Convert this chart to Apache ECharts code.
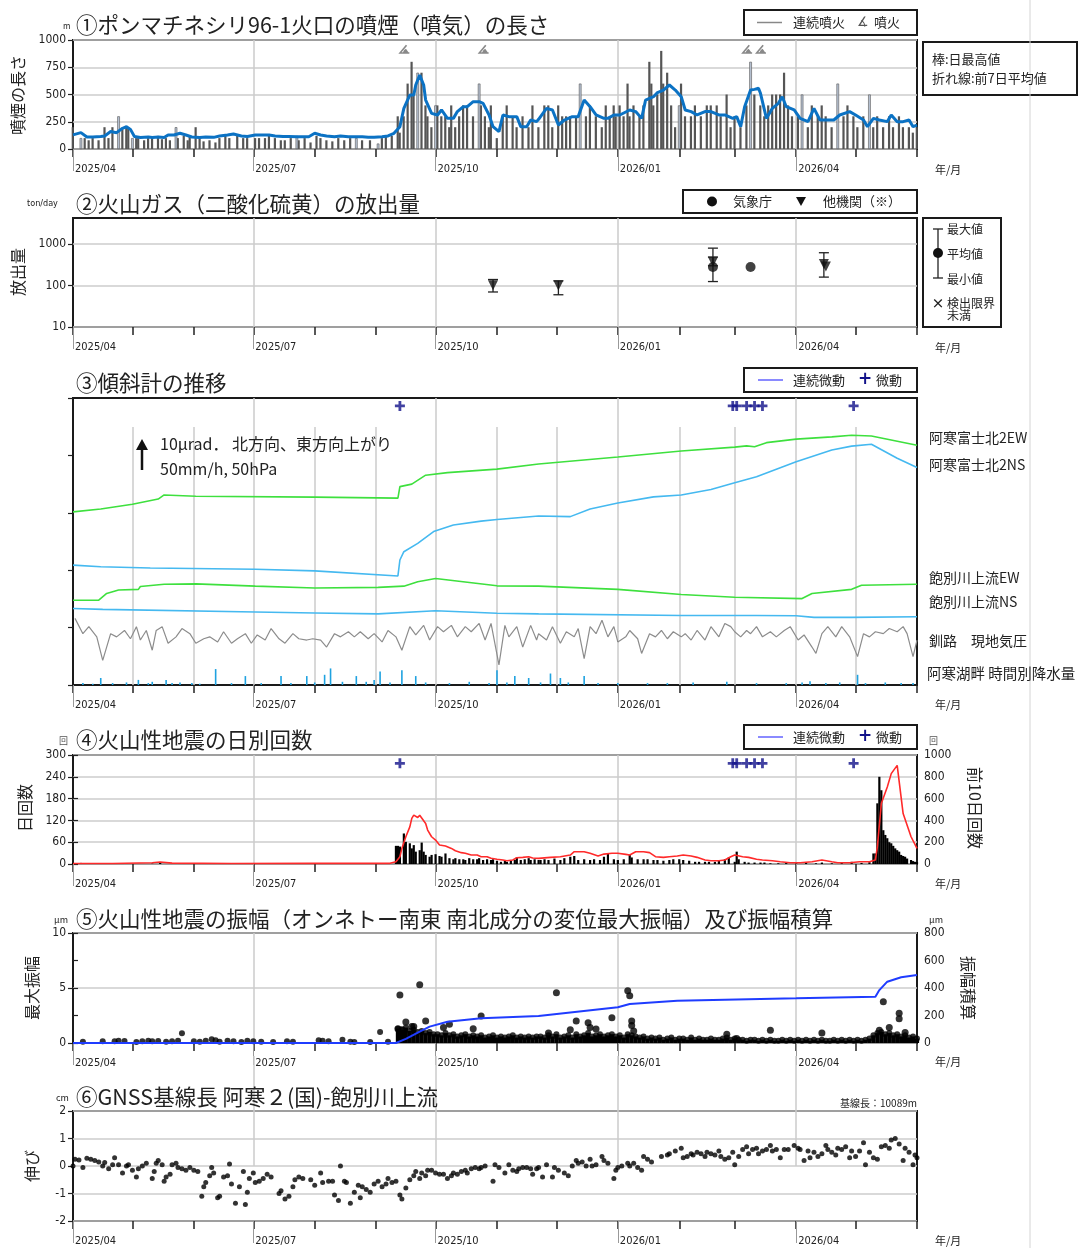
<!DOCTYPE html>
<html lang="ja">
<head>
<meta charset="UTF-8">
<title>阿寒岳 火山活動経過図</title>
<script src="https://cdn.jsdelivr.net/npm/echarts@6/dist/echarts.min.js"></script>
</head>
<body style="margin:0;background:#fff">
<div id="main" style="width:1078px;height:1248px"></div>
<script>
// x values are days counted from 2025/04/01
var monthDays = [0, 30, 61, 91, 122, 153, 183, 214, 244, 275, 306, 334, 365, 395, 426];
var quarterDays = [0, 91, 183, 275, 365];
var quarterLabels = ['2025/04', '2025/07', '2025/10', '2026/01', '2026/04'];

// ① 噴煙の高さ (日最高値) [day, m]
var plumeMax = [[0,200],[6,100],[8,80],[10,100],[13,80],[16,200],[18,100],[20,200],[25,180],[27,200],[28,200],[32,100],[33,100],[36,80],[38,100],[40,100],[43,120],[45,90],[47,100],[49,80],[53,100],[56,120],[58,80],[59,120],[62,200],[64,100],[66,70],[69,80],[72,60],[74,100],[77,120],[79,100],[83,120],[86,100],[88,100],[92,100],[94,100],[97,100],[99,120],[102,100],[105,80],[107,80],[110,100],[114,80],[117,100],[120,60],[123,120],[125,100],[128,80],[131,70],[134,100],[137,80],[140,100],[146,80],[150,80],[156,100],[158,120],[161,120],[164,300],[165,150],[167,300],[169,600],[171,800],[172,500],[176,700],[178,400],[179,300],[181,200],[184,400],[186,300],[188,300],[190,200],[191,400],[193,200],[195,300],[197,400],[199,400],[202,300],[206,400],[208,300],[210,200],[211,400],[214,100],[217,300],[219,400],[222,300],[224,200],[227,300],[230,200],[232,400],[235,200],[238,400],[240,400],[242,200],[245,400],[247,300],[249,300],[251,300],[254,300],[259,300],[261,400],[264,300],[267,200],[269,400],[271,300],[273,400],[274,300],[276,400],[278,300],[280,600],[281,300],[283,400],[286,300],[288,400],[291,800],[292,600],[293,400],[295,500],[297,900],[298,600],[300,700],[302,400],[304,200],[307,600],[309,300],[312,300],[314,400],[317,300],[320,400],[322,400],[325,400],[327,300],[330,500],[332,200],[334,300],[337,200],[340,400],[344,500],[347,400],[349,300],[351,400],[353,500],[355,500],[357,500],[359,700],[361,400],[363,300],[366,300],[371,200],[373,400],[376,300],[378,400],[380,300],[383,200],[389,300],[391,400],[394,300],[396,200],[399,300],[404,200],[406,300],[409,200],[412,300],[414,200],[417,300],[419,200],[422,200],[424,150],[426,200]];
var plumeMaxLight = [[4,100],[23,300],[30,100],[52,200],[113,120],[143,100],[154,50],[174,700],[183,400],[205,600],[256,600],[306,400],[342,800],[368,500],[386,600],[402,500]];
// 前7日平均値 [day, m]
var plumeAvg = [[0,130],[4,150],[7,110],[10,110],[14,115],[16,120],[19,160],[22,150],[25,190],[27,205],[29,180],[31,115],[34,105],[38,110],[40,105],[43,110],[46,105],[48,128],[51,128],[54,144],[57,128],[60,110],[64,105],[67,110],[71,107],[74,120],[78,128],[81,138],[85,120],[88,115],[92,128],[95,128],[99,128],[102,120],[106,115],[109,115],[113,113],[116,113],[119,113],[122,144],[125,128],[128,120],[132,113],[135,120],[139,113],[142,113],[146,113],[149,107],[152,107],[156,113],[159,120],[162,144],[165,205],[167,373],[170,495],[172,495],[173,587],[175,679],[177,587],[178,449],[181,327],[184,312],[186,358],[189,281],[192,281],[194,343],[197,388],[199,388],[202,434],[205,434],[207,419],[210,312],[212,205],[215,159],[217,312],[220,297],[224,297],[226,205],[229,205],[231,266],[234,251],[235,272],[239,373],[242,358],[245,220],[248,266],[252,297],[255,297],[258,449],[261,388],[264,312],[268,281],[270,281],[273,312],[276,312],[281,358],[284,343],[287,281],[289,449],[293,480],[295,517],[298,541],[301,587],[302,602],[304,541],[307,480],[309,358],[312,343],[315,312],[319,343],[322,343],[326,312],[329,312],[333,281],[335,297],[337,205],[339,388],[340,404],[342,541],[344,547],[346,557],[347,511],[350,281],[353,373],[356,419],[358,480],[360,388],[364,358],[367,281],[371,251],[374,373],[377,266],[380,266],[384,266],[387,312],[392,343],[395,312],[399,266],[401,205],[404,281],[407,266],[411,251],[413,312],[416,251],[419,251],[422,266],[424,205],[426,220]];
var eruptionDays = [167, 207, 340, 347];

// ② 二酸化硫黄放出量 [day, mean, min, max] (t/day)
var so2Jma = [[323,280,125,800],[342,280,260,300]];
var so2Other = [[212,102,70,140],[245,100,60,130],[323,370,300,490],[379,330,160,620],[380,290,290,290]];

// ③ 傾斜計 [day, μrad]
var tiltAkanEW = [[0,54.3],[14,55.2],[30,56.7],[43,58.3],[46,59.6],[62,59.2],[122,58.9],[164,58.6],[165,62.2],[171,63.0],[178,65.8],[189,66.6],[214,67.7],[235,69.3],[275,71.5],[307,73.4],[334,74.6],[340,75.0],[344,74.7],[350,76.0],[365,77.1],[383,77.8],[393,78.3],[403,78.1],[426,75.2]];
var tiltAkanNS = [[0,37.6],[14,37.1],[39,36.7],[92,36.3],[122,35.8],[164,34.2],[165,39.2],[167,41.8],[174,44.4],[182,48.1],[192,50.2],[206,51.4],[214,51.9],[235,53.0],[251,52.8],[261,55.2],[275,57.1],[293,59.0],[307,59.6],[322,61.3],[334,63.4],[345,65.3],[365,70.0],[383,73.7],[393,74.9],[403,75.5],[416,71.1],[426,68.2]];
var tiltAkuEW = [[0,26.6],[13,26.6],[17,28.7],[23,29.8],[33,30.0],[34,30.9],[46,31.6],[62,31.7],[92,31.0],[122,30.4],[154,30.6],[167,31.0],[174,32.4],[183,33.4],[214,31.1],[235,31.0],[275,30.0],[307,28.4],[334,27.5],[368,27.1],[373,28.7],[393,30.0],[398,31.3],[426,31.6]];
var tiltAkuNS = [[0,24.0],[15,23.7],[92,22.9],[122,22.6],[154,22.3],[183,23.3],[214,22.5],[235,22.3],[307,21.8],[345,21.8],[365,21.7],[374,21.2],[393,21.2],[426,21.4]];
// 釧路 現地気圧 [day, hPa]
var pressure = [[1,1041],[5,1017],[8,1028],[12,1012],[15,975],[19,1017],[22,1012],[26,1022],[29,1009],[32,1028],[34,1007],[37,1022],[40,991],[42,1022],[45,1028],[48,1002],[52,1012],[55,1025],[59,1017],[62,1002],[66,1009],[69,1012],[73,1004],[76,1020],[80,1002],[83,1009],[87,1017],[90,1002],[93,1015],[97,1007],[100,1025],[104,1009],[107,1002],[111,1017],[114,1009],[118,1007],[121,1009],[125,1007],[128,996],[132,1017],[135,1012],[139,1020],[142,1012],[145,1020],[149,1009],[152,1017],[156,1004],[159,1022],[163,1012],[166,991],[170,1028],[173,1015],[177,1030],[180,1007],[184,1028],[187,1020],[191,1030],[194,1012],[198,1028],[201,1020],[205,1033],[208,1007],[211,1033],[215,968],[218,1030],[220,1012],[224,1028],[227,996],[231,1030],[234,1007],[235,1017],[239,1007],[242,1028],[246,1002],[249,1020],[253,1012],[255,1025],[258,978],[261,1028],[264,1017],[267,1038],[270,1012],[273,1028],[275,1004],[279,1012],[281,1022],[285,1009],[287,986],[291,1017],[294,1012],[297,1022],[300,1009],[303,1020],[307,1012],[309,1017],[312,1007],[315,1022],[319,1007],[322,1028],[326,1012],[329,1033],[332,1028],[334,1020],[337,1012],[340,1022],[342,1017],[345,1028],[348,1012],[352,1020],[355,1012],[359,1022],[362,1028],[366,1007],[369,1015],[373,996],[375,986],[378,1017],[381,1028],[385,1012],[388,1028],[392,1012],[396,981],[399,1017],[402,1012],[405,1020],[409,1017],[412,1025],[416,1020],[419,1028],[421,1017],[424,981],[426,1007]];
// 阿寒湖畔 時間別降水量 [day, mm/h]
var rain = [[5,3],[10,2],[14,11],[20,3],[27,4],[33,8],[38,3],[40,5],[47,8],[50,3],[54,4],[60,3],[64,2],[72,25],[80,3],[87,14],[95,3],[105,14],[110,3],[118,14],[122,4],[127,16],[130,26],[136,5],[143,14],[148,5],[152,8],[155,21],[160,4],[166,23],[173,14],[178,4],[190,3],[200,5],[210,3],[214,23],[219,4],[223,14],[230,11],[236,4],[241,18],[246,11],[250,4],[258,14],[265,3],[275,3],[290,3],[300,3],[313,4],[330,5],[345,3],[360,3],[368,4],[372,6],[380,3],[387,4],[396,16],[400,3],[410,4],[418,3],[424,3]];
var tremorDays = [165, 333, 335, 340, 344, 348, 394];

// ④ 火山性地震 日別回数 [day, count] / 前10日回数 [day, count]
var eqDaily = [[0,3],[2,2],[4,3],[6,2],[8,2],[40,1],[44,3],[60,1],[90,1],[120,1],[150,1],[163,50],[164,50],[165,48],[167,84],[168,61],[170,57],[171,43],[172,52],[173,34],[175,38],[176,59],[177,34],[178,25],[180,20],[181,25],[183,27],[185,22],[186,20],[188,29],[190,16],[192,13],[193,16],[195,13],[197,13],[198,11],[200,16],[202,13],[204,13],[205,16],[207,11],[209,13],[211,11],[212,13],[214,9],[216,6],[218,9],[219,6],[221,9],[223,11],[224,18],[226,11],[228,13],[230,16],[231,11],[233,13],[235,11],[236,11],[238,13],[240,11],[243,15],[246,11],[248,16],[251,20],[253,22],[255,11],[258,13],[261,11],[263,13],[266,11],[268,20],[270,29],[273,13],[275,11],[278,13],[281,25],[282,18],[285,13],[288,13],[290,13],[293,11],[295,11],[298,9],[301,11],[303,13],[306,13],[308,11],[311,9],[314,6],[316,6],[319,6],[321,6],[324,6],[326,9],[329,13],[331,18],[334,6],[335,34],[336,13],[339,6],[341,4],[344,4],[347,4],[349,4],[352,2],[356,2],[360,3],[365,2],[370,3],[375,2],[378,4],[383,2],[388,3],[393,6],[398,3],[402,5],[404,29],[405,29],[406,167],[407,240],[408,203],[409,93],[410,80],[411,71],[412,60],[413,57],[414,50],[415,43],[416,38],[417,34],[418,25],[419,22],[420,20],[421,15],[423,11],[424,8],[425,6],[426,5]];
var eq10Day = [[0,5],[20,5],[40,12],[44,18],[50,8],[80,5],[120,6],[160,6],[163,21],[165,67],[166,143],[168,250],[170,341],[171,418],[172,448],[174,427],[175,448],[176,448],[178,372],[179,311],[181,250],[183,220],[185,174],[188,165],[191,143],[193,122],[196,104],[198,98],[201,82],[204,82],[206,67],[209,67],[211,52],[214,43],[217,37],[219,30],[222,37],[224,58],[227,61],[230,67],[232,55],[235,52],[241,61],[246,67],[251,82],[253,113],[258,113],[261,98],[265,73],[268,91],[272,98],[275,98],[279,88],[281,82],[284,113],[288,113],[291,104],[294,67],[298,61],[301,67],[305,73],[308,82],[312,73],[315,61],[319,37],[322,30],[326,30],[329,37],[332,67],[334,82],[338,67],[341,61],[345,43],[348,37],[353,30],[357,21],[362,12],[367,12],[373,21],[378,37],[383,21],[386,12],[392,12],[397,21],[402,21],[405,37],[406,159],[408,555],[411,707],[413,829],[416,905],[417,890],[419,463],[423,250],[426,143]];

// ⑤ 振幅 [day, μm]、振幅積算 [day, μm]
var ampEarly = [[5,0.12],[15,0.15],[21,0.15],[23,0.2],[26,0.18],[32,0.1],[35,0.15],[38,0.2],[40,0.15],[43,0.18],[47,0.12],[50,0.15],[53,0.2],[55,0.88],[61,0.15],[64,0.12],[67,0.2],[70,0.35],[72,0.25],[74,0.12],[78,0.2],[81,0.15],[85,0.1],[88,0.2],[91,0.15],[95,0.12],[101,0.1],[108,0.15],[111,0.12],[124,0.25],[126,0.2],[129,0.15],[136,0.3],[140,0.12],[142,0.1],[150,0.1],[155,1.0],[159,0.12]];
var ampBandStart = 164;
var ampBand = [1.3,1.2,1.4,1.1,1.2,1.0,1.1,0.9,1.0,0.8,0.8,0.7,0.9,0.7,0.8,0.6,0.7,0.8,0.6,0.7,0.6,0.7,0.5,0.6,0.7,0.5,0.6,0.5,0.6,0.7,0.5,0.6,0.5,0.6,0.5,0.6,0.6,0.5,0.7,0.6,0.8,0.5,0.6,0.7,0.5,0.8,0.6,0.7,0.9,0.6,0.7,0.8,0.6,0.7,0.8,0.6,0.7,0.5,0.8,0.7,0.6,0.5,0.6,0.4,0.5,0.4,0.5,0.3,0.4,0.5,0.3,0.4,0.4,0.3,0.5,0.3,0.4,0.3,0.3,0.4,0.3,0.3,0.4,0.5,0.3,0.4,0.3,0.3,0.2,0.3,0.3,0.2,0.3,0.2,0.3,0.2,0.2,0.3,0.2,0.3,0.2,0.3,0.2,0.3,0.2,0.3,0.2,0.3,0.2,0.2,0.3,0.2,0.3,0.2,0.3,0.2,0.3,0.2,0.3,0.4,0.7,0.9,1.0,0.8,0.9,0.7,0.8,0.6,0.7,0.5,0.6,0.4];
var ampLarge = [[164,1.3],[165,4.36],[166,1.2],[168,1.9],[171,1.5],[172,1.5],[175,5.3],[178,2.0],[187,1.4],[190,1.7],[202,1.3],[206,2.45],[240,0.9],[244,4.57],[251,1.2],[254,2.0],[260,1.85],[261,1.4],[264,1.27],[272,2.3],[280,4.76],[281,4.3],[282,2.0],[282,1.6],[283,1.1],[330,0.8],[335,0.4],[352,1.15],[378,0.9],[407,1.15],[409,3.75],[412,1.4],[417,2.7],[417,2.2],[420,0.95]];
var ampCumulative = [[0,0],[163,0],[168,30],[175,82],[180,119],[189,155],[206,180],[235,196],[275,260],[281,284],[305,308],[365,325],[405,337],[407,385],[411,446],[418,478],[426,495]];

// ⑥ GNSS基線長 [day, cm]
var gnss = [[0,0.0],[1,0.25],[3,0.22],[5,-0.05],[7,0.28],[9,0.25],[11,0.2],[13,0.15],[15,0.0],[16,0.13],[18,-0.1],[20,0.05],[21,0.3],[23,0.05],[25,-0.25],[27,0.0],[28,0.05],[30,-0.15],[32,-0.4],[33,-0.1],[35,0.0],[37,0.1],[40,-0.45],[41,-0.2],[42,0.1],[43,0.2],[45,0.05],[46,-0.55],[47,-0.4],[49,-0.3],[50,0.05],[52,0.1],[53,-0.05],[55,-0.1],[57,-0.15],[59,-0.05],[61,-0.15],[63,-0.2],[65,-1.1],[66,-0.75],[67,-0.6],[69,-0.35],[70,-0.05],[71,-0.25],[73,-1.15],[74,-1.1],[76,-0.4],[78,-0.35],[79,0.07],[80,-0.65],[82,-1.35],[84,-0.75],[86,-0.2],[87,-1.4],[88,-0.95],[89,-0.45],[91,-0.25],[92,-0.6],[94,-0.55],[96,-0.45],[98,-0.3],[100,-0.4],[104,-1.0],[105,-0.9],[107,-1.2],[109,-1.1],[111,-0.75],[112,-0.5],[114,-0.4],[116,-0.45],[120,-0.5],[122,-0.7],[125,-0.25],[126,-0.6],[129,-0.55],[131,-0.55],[132,-1.05],[134,-1.25],[135,0.0],[137,-0.55],[138,-0.6],[140,-1.35],[142,-0.95],[144,-0.7],[145,-1.15],[146,-0.75],[148,-0.85],[150,-0.95],[152,-0.65],[154,-0.55],[156,-0.75],[158,-0.65],[159,-0.45],[161,-0.6],[163,-0.55],[165,-1.05],[166,-1.2],[168,-0.8],[170,-0.5],[172,-0.35],[173,-0.2],[175,-0.45],[176,-0.25],[178,-0.35],[179,-0.15],[181,-0.15],[183,-0.25],[185,-0.3],[187,-0.3],[189,-0.45],[191,-0.35],[192,-0.25],[194,-0.3],[196,-0.2],[198,-0.15],[199,-0.25],[201,-0.1],[203,-0.05],[205,-0.1],[206,-0.05],[208,0.0],[212,-0.55],[213,0.05],[215,-0.05],[218,-0.25],[220,0.05],[222,-0.15],[224,-0.2],[225,-0.1],[227,-0.05],[229,-0.05],[231,-0.1],[232,-0.3],[234,-0.1],[235,-0.05],[237,-0.4],[239,0.05],[242,-0.4],[243,-0.05],[245,-0.15],[248,-0.25],[250,-0.35],[252,0.0],[254,0.2],[255,0.1],[257,0.15],[259,0.0],[261,0.25],[262,0.0],[264,0.05],[267,0.35],[268,0.2],[270,0.1],[273,-0.45],[274,-0.15],[275,-0.05],[277,0.0],[280,0.1],[281,0.0],[283,0.1],[285,-0.05],[287,-0.15],[288,0.35],[290,0.25],[292,0.15],[297,0.35],[300,0.4],[301,0.45],[304,0.55],[307,0.65],[308,0.3],[310,0.35],[312,0.45],[313,0.4],[315,0.5],[317,0.45],[319,0.35],[320,0.5],[322,0.45],[324,0.4],[326,0.55],[327,0.35],[329,0.25],[331,0.3],[333,0.5],[334,0.05],[336,0.35],[338,0.6],[340,0.7],[341,0.45],[343,0.6],[345,0.65],[346,0.45],[348,0.55],[350,0.6],[352,0.75],[353,0.55],[355,0.6],[357,0.3],[359,0.6],[361,0.6],[364,0.75],[366,0.65],[367,0.6],[369,0.2],[371,0.55],[372,0.3],[374,0.5],[376,0.35],[378,0.45],[380,0.75],[381,0.6],[383,0.5],[385,0.4],[386,0.65],[388,0.6],[390,0.7],[392,0.3],[393,0.55],[395,0.35],[397,0.55],[399,0.85],[400,0.05],[402,0.5],[404,0.3],[406,0.25],[408,0.7],[410,0.75],[412,0.65],[413,0.95],[415,1.0],[417,0.8],[419,0.2],[420,0.65],[422,0.5],[424,0.05],[425,0.4],[426,0.3]];

var NUM_FONT = "'DejaVu Sans Condensed','Liberation Sans Narrow',Roboto,sans-serif";
var JP_FONT = "'Noto Sans CJK JP','Noto Sans',sans-serif";
var GRID_GRAY = '#cccccc';

// 傾斜図の換算: 50hPa, 50mm/h = 10μrad
var hpaScale = 10 / 50, rainScale = 10 / 50, pressBase = 15.1, pressRef = 1012;

var panels = [
  { top: 40, h: 109, labelY: 170 },
  { top: 218, h: 109, labelY: 348 },
  { top: 398, h: 287, labelY: 705 },
  { top: 755, h: 109, labelY: 884 },
  { top: 933, h: 110, labelY: 1062 },
  { top: 1111, h: 110, labelY: 1241 }
];

var chart = echarts.init(document.getElementById('main'));

var grid = panels.map(function (p) {
  return { left: 73, width: 844, top: p.top, height: p.h, show: true,
    borderColor: '#1a1a1a', borderWidth: 2, backgroundColor: 'rgba(0,0,0,0)' };
});

function baseX(gi, extra) {
  return Object.assign({
    type: 'value', gridIndex: gi, min: 0, max: 426, position: 'bottom',
    axisLine: { show: false }, axisLabel: { show: false },
    splitLine: { show: false }, axisTick: { show: false }
  }, extra);
}

var xAxis = [], xBase = [];
var minorMonths = monthDays.filter(function (d) { return quarterDays.indexOf(d) < 0 && d < 426; });
panels.forEach(function (p, i) {
  xBase.push(xAxis.length);
  // vertical grid lines (drawn as inside ticks)
  xAxis.push(baseX(i, { axisTick: { show: true, inside: true, length: p.h,
    customValues: quarterDays.slice(1), lineStyle: { color: GRID_GRAY, width: 1.5 } } }));
  xAxis.push(baseX(i, { axisTick: { show: true, length: 8, customValues: monthDays,
    lineStyle: { color: '#222', width: 1.5 } } }));
  xAxis.push(baseX(i, {
    axisTick: { show: true, length: 22, customValues: quarterDays, lineStyle: { color: '#999', width: 1 } },
    axisLabel: { show: true, customValues: quarterDays, align: 'left', margin: 15, padding: [0, 0, 0, 2],
      fontSize: 11, color: '#222', fontFamily: NUM_FONT,
      formatter: function (v) { return quarterLabels[quarterDays.indexOf(v)] || ''; } }
  }));
  if (i === 2) {
    xAxis.push(baseX(i, { axisTick: { show: true, inside: true, length: 258,
      customValues: minorMonths, lineStyle: { color: GRID_GRAY, width: 1.5 } } }));
  }
});

function plain(v) { return String(v); }

function yAx(gi, extra) {
  return Object.assign({
    type: 'value', gridIndex: gi, axisLine: { show: false },
    axisTick: { show: true, length: 5, lineStyle: { color: '#222', width: 1.2 } },
    axisLabel: { color: '#222', fontSize: 12, fontFamily: NUM_FONT, margin: 7, formatter: plain },
    splitLine: { show: true, lineStyle: { color: GRID_GRAY, width: 1.5 } }
  }, extra);
}

var yAxis = [
  yAx(0, { min: 0, max: 1000, interval: 250 }),
  yAx(1, { type: 'log', logBase: 10, min: 10, max: 4270,
    axisLabel: { color: '#222', fontSize: 12, fontFamily: NUM_FONT, margin: 7, customValues: [10, 100, 1000], formatter: plain },
    axisTick: { show: true, length: 5, customValues: [10, 100, 1000], lineStyle: { color: '#222', width: 1.2 } } }),
  yAx(2, { min: 0, max: 90, interval: 18, axisLabel: { show: false }, splitLine: { show: false } }),
  yAx(3, { min: 0, max: 300, interval: 60 }),
  yAx(3, { min: 0, max: 1000, interval: 200, position: 'right', splitLine: { show: false } }),
  yAx(4, { min: 0, max: 10, interval: 5 }),
  yAx(4, { min: 0, max: 800, interval: 200, position: 'right', splitLine: { show: false } }),
  yAx(5, { min: -2, max: 2, interval: 1 })
];

var plusPath = 'path://M3.6,0H6.4V3.6H10V6.4H6.4V10H3.6V6.4H0V3.6H3.6Z';
var eruptPath = 'path://M0,10L12,10L12,8.4L3.6,8.4L9.6,1.2L8.2,0Z M5,8.4Q6,5.2 8.3,4.4L11,8.4Z';

function errorBars(data, gi) {
  return {
    type: 'custom', xAxisIndex: xBase[gi], yAxisIndex: 1, z: 4, data: data,
    encode: { x: 0, y: [2, 3] },
    renderItem: function (params, api) {
      var lo = api.coord([api.value(0), api.value(2)]);
      var hi = api.coord([api.value(0), api.value(3)]);
      if (Math.abs(lo[1] - hi[1]) < 3) return null;
      var st = { stroke: '#222', lineWidth: 1.3 };
      return { type: 'group', children: [
        { type: 'line', shape: { x1: lo[0], y1: lo[1], x2: hi[0], y2: hi[1] }, style: st },
        { type: 'line', shape: { x1: lo[0] - 5, y1: lo[1], x2: lo[0] + 5, y2: lo[1] }, style: st },
        { type: 'line', shape: { x1: hi[0] - 5, y1: hi[1], x2: hi[0] + 5, y2: hi[1] }, style: st }
      ] };
    }
  };
}

var series = [
  // ①
  { type: 'bar', xAxisIndex: xBase[0], yAxisIndex: 0, data: plumeMax, barWidth: 2.2, z: 2,
    itemStyle: { color: '#555' } },
  { type: 'bar', xAxisIndex: xBase[0], yAxisIndex: 0, data: plumeMaxLight, barWidth: 2.6, z: 2, barGap: '-100%',
    itemStyle: { color: '#b8c3d4', borderColor: '#555', borderWidth: 0.6 } },
  { type: 'line', xAxisIndex: xBase[0], yAxisIndex: 0, data: plumeAvg, symbol: 'none', z: 5,
    lineStyle: { color: '#0b72c4', width: 3 } },
  { type: 'scatter', xAxisIndex: xBase[0], yAxisIndex: 0, symbol: eruptPath, symbolSize: [11, 9],
    itemStyle: { color: '#6b6b6b' }, z: 6,
    data: eruptionDays.map(function (d) { return [d, 915]; }) },
  // ②
  errorBars(so2Jma, 1),
  errorBars(so2Other, 1),
  { type: 'scatter', xAxisIndex: xBase[1], yAxisIndex: 1, symbol: 'circle', symbolSize: 10, z: 5,
    itemStyle: { color: '#111' }, data: so2Jma.map(function (r) { return [r[0], r[1]]; }) },
  { type: 'scatter', xAxisIndex: xBase[1], yAxisIndex: 1, symbol: 'triangle', symbolRotate: 180, symbolSize: 10, z: 6,
    itemStyle: { color: '#111' }, data: so2Other.map(function (r) { return [r[0], r[1]]; }) },
  // ③
  { type: 'line', xAxisIndex: xBase[2], yAxisIndex: 2, data: tiltAkanEW, symbol: 'none', lineStyle: { color: '#3ee03e', width: 1.6 } },
  { type: 'line', xAxisIndex: xBase[2], yAxisIndex: 2, data: tiltAkanNS, symbol: 'none', lineStyle: { color: '#45b9f0', width: 1.6 } },
  { type: 'line', xAxisIndex: xBase[2], yAxisIndex: 2, data: tiltAkuEW, symbol: 'none', lineStyle: { color: '#3ee03e', width: 1.6 } },
  { type: 'line', xAxisIndex: xBase[2], yAxisIndex: 2, data: tiltAkuNS, symbol: 'none', lineStyle: { color: '#45b9f0', width: 1.6 } },
  { type: 'line', xAxisIndex: xBase[2], yAxisIndex: 2, symbol: 'none', lineStyle: { color: '#8c8c8c', width: 1.2 },
    data: pressure.map(function (r) { return [r[0], pressBase + (r[1] - pressRef) * hpaScale]; }) },
  { type: 'bar', xAxisIndex: xBase[2], yAxisIndex: 2, barWidth: 1.6, itemStyle: { color: '#1fa2e0' },
    data: rain.map(function (r) { return [r[0], r[1] * rainScale]; }) },
  { type: 'scatter', xAxisIndex: xBase[2], yAxisIndex: 2, symbol: plusPath, symbolSize: 10,
    itemStyle: { color: '#12128a' }, data: tremorDays.map(function (d) { return [d, 87.5]; }) },
  // ④
  { type: 'bar', xAxisIndex: xBase[3], yAxisIndex: 3, data: eqDaily, barWidth: 2.2, itemStyle: { color: '#000' } },
  { type: 'line', xAxisIndex: xBase[3], yAxisIndex: 4, data: eq10Day, symbol: 'none', z: 5,
    lineStyle: { color: '#ff2a2a', width: 1.6 } },
  { type: 'scatter', xAxisIndex: xBase[3], yAxisIndex: 3, symbol: plusPath, symbolSize: 10,
    itemStyle: { color: '#12128a' }, data: tremorDays.map(function (d) { return [d, 277]; }) },
  // ⑤
  { type: 'bar', xAxisIndex: xBase[4], yAxisIndex: 5, barWidth: 4.2, itemStyle: { color: '#000' },
    data: ampBand.map(function (v, i) { return [ampBandStart + 2 * i, v]; }) },
  { type: 'scatter', xAxisIndex: xBase[4], yAxisIndex: 5, symbolSize: 6, itemStyle: { color: '#000' },
    data: ampBand.map(function (v, i) { return [ampBandStart + 2 * i, v]; }) },
  { type: 'scatter', xAxisIndex: xBase[4], yAxisIndex: 5, symbolSize: 6, itemStyle: { color: '#000' }, data: ampEarly },
  { type: 'scatter', xAxisIndex: xBase[4], yAxisIndex: 5, symbolSize: 7, itemStyle: { color: '#000' }, data: ampLarge },
  { type: 'line', xAxisIndex: xBase[4], yAxisIndex: 6, data: ampCumulative, symbol: 'none', z: 5,
    lineStyle: { color: '#1f3cff', width: 2 } },
  // ⑥
  { type: 'scatter', xAxisIndex: xBase[5], yAxisIndex: 7, symbolSize: 5, itemStyle: { color: '#000' }, data: gnss }
];

function txt(x, y, s, size, o) {
  o = o || {};
  return { type: 'text', x: x, y: y, rotation: o.rot || 0, z: 20,
    style: { text: s, fontSize: size, fontFamily: o.font || JP_FONT, fill: o.color || '#222',
      fontWeight: o.weight || 'normal', align: o.align || 'left', verticalAlign: 'middle' } };
}
function box(x, y, w, h) {
  return { type: 'rect', z: 19, shape: { x: x, y: y, width: w, height: h },
    style: { fill: '#fff', stroke: '#1a1a1a', lineWidth: 2 } };
}
function ln(x1, y1, x2, y2, c, w) {
  return { type: 'line', z: 20, shape: { x1: x1, y1: y1, x2: x2, y2: y2 }, style: { stroke: c, lineWidth: w } };
}

var graphic = [
  ln(1030, 0, 1030, 1248, '#d4d4d4', 1),
  // titles
  txt(76, 25, '①ポンマチネシリ96-1火口の噴煙（噴気）の長さ', 21.5),
  txt(76, 204, '②火山ガス（二酸化硫黄）の放出量', 21.5),
  txt(76, 383, '③傾斜計の推移', 21.5),
  txt(76, 740, '④火山性地震の日別回数', 21.5),
  txt(76, 919, '⑤火山性地震の振幅（オンネトー南東 南北成分の変位最大振幅）及び振幅積算', 21.5),
  txt(76, 1097, '⑥GNSS基線長 阿寒２(国)-飽別川上流', 21.5),
  // units
  txt(63, 26, 'm', 8),
  txt(27, 204, 'ton/day', 9, { font: NUM_FONT }),
  txt(59, 741, '回', 9, { color: '#555' }),
  txt(929, 741, '回', 9, { color: '#555' }),
  txt(54, 920, 'μm', 9),
  txt(929, 920, 'μm', 9),
  txt(56, 1098, 'cm', 9),
  txt(917, 1103, '基線長：10089m', 10, { align: 'right' }),
  // axis names
  txt(18, 95, '噴煙の長さ', 16, { rot: Math.PI / 2, align: 'center' }),
  txt(18, 272, '放出量', 16, { rot: Math.PI / 2, align: 'center' }),
  txt(25, 808, '日回数', 16, { rot: Math.PI / 2, align: 'center' }),
  txt(975, 808, '前10日回数', 16, { rot: -Math.PI / 2, align: 'center' }),
  txt(32, 988, '最大振幅', 16, { rot: Math.PI / 2, align: 'center' }),
  txt(968, 988, '振幅積算', 16, { rot: -Math.PI / 2, align: 'center' }),
  txt(32, 1166, '伸び', 16, { rot: Math.PI / 2, align: 'center' }),
  // ① legend
  box(744, 10, 173, 25),
  ln(757, 22.5, 782, 22.5, '#888', 1.5),
  txt(793, 22.5, '連続噴火', 13),
  txt(857, 22.5, '∡', 13, { font: "'DejaVu Sans'", color: '#555' }),
  txt(874, 22.5, '噴火', 13),
  box(923, 42, 154, 53),
  txt(932, 59, '棒:日最高値', 13),
  txt(932, 78, '折れ線:前7日平均値', 13),
  // ② legend
  box(683, 190, 234, 23),
  { type: 'circle', z: 20, shape: { cx: 712, cy: 201.5, r: 5 }, style: { fill: '#111' } },
  txt(733, 201.5, '気象庁', 13),
  { type: 'polygon', z: 20, shape: { points: [[796, 197], [806, 197], [801, 206]] }, style: { fill: '#111' } },
  txt(823, 201.5, '他機関（※）', 13),
  box(923, 218, 78, 109),
  ln(938, 229, 938, 278, '#222', 1.3),
  ln(933, 229, 943, 229, '#222', 1.3),
  ln(933, 278, 943, 278, '#222', 1.3),
  { type: 'circle', z: 20, shape: { cx: 938, cy: 253, r: 5 }, style: { fill: '#111' } },
  txt(947, 229, '最大値', 12),
  txt(947, 254, '平均値', 12),
  txt(947, 279, '最小値', 12),
  txt(938, 303, '×', 13, { align: 'center', weight: 'bold' }),
  txt(947, 303, '検出限界', 12),
  txt(947, 315, '未満', 12),
  // ③ legend and labels
  box(744, 368, 173, 24),
  ln(758, 380, 783, 380, '#8a8aff', 2),
  txt(793, 380, '連続微動', 13),
  txt(865, 380, '+', 17, { color: '#12128a', weight: 'bold', align: 'center', font: "'DejaVu Sans'" }),
  txt(876, 380, '微動', 13),
  txt(929, 438, '阿寒富士北2EW', 14),
  txt(929, 465, '阿寒富士北2NS', 14),
  txt(929, 578, '飽別川上流EW', 14),
  txt(929, 602, '飽別川上流NS', 14),
  txt(929, 641, '釧路　現地気圧', 14),
  txt(927, 673, '阿寒湖畔 時間別降水量', 14.5),
  ln(142, 470, 142, 446, '#111', 2.5),
  { type: 'polygon', z: 20, shape: { points: [[136, 450], [148, 450], [142, 439]] }, style: { fill: '#111' } },
  txt(160, 444, '10μrad． 北方向、東方向上がり', 16),
  txt(160, 469, '50mm/h, 50hPa', 16),
  // ④ legend
  box(744, 725, 173, 24),
  ln(758, 737, 783, 737, '#8a8aff', 2),
  txt(793, 737, '連続微動', 13),
  txt(865, 737, '+', 17, { color: '#12128a', weight: 'bold', align: 'center', font: "'DejaVu Sans'" }),
  txt(876, 737, '微動', 13)
];
panels.forEach(function (p) {
  graphic.push(txt(935, p.labelY, '年/月', 11));
});

chart.setOption({
  animation: false,
  grid: grid,
  xAxis: xAxis,
  yAxis: yAxis,
  series: series,
  graphic: graphic
});
</script>
</body>
</html>
